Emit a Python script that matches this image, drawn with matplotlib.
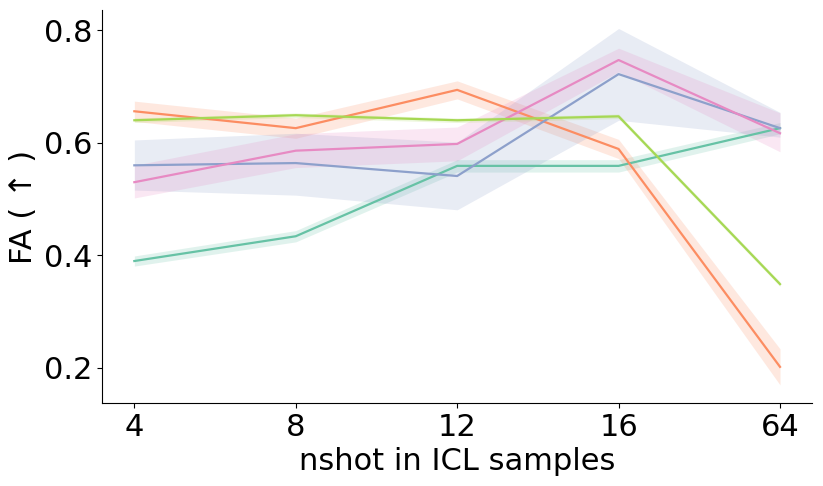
import matplotlib
matplotlib.use('Agg')
import matplotlib.pyplot as plt
import numpy as np

# x categories (equally spaced on the axis)
nshot = ['4', '8', '12', '16', '64']

# mean FA per series
green_mean = [0.390, 0.434, 0.559, 0.559, 0.626]
orange_mean = [0.656, 0.626, 0.694, 0.589, 0.202]
blue_mean = [0.560, 0.564, 0.541, 0.722, 0.626]
pink_mean = [0.530, 0.586, 0.598, 0.747, 0.617]
lime_mean = [0.640, 0.649, 0.640, 0.647, 0.349]

# band lower / upper bounds
green_lo = [0.381, 0.424, 0.548, 0.548, 0.616]
green_hi = [0.399, 0.444, 0.570, 0.570, 0.636]
orange_lo = [0.638, 0.608, 0.678, 0.572, 0.170]
orange_hi = [0.674, 0.644, 0.710, 0.606, 0.234]
blue_lo = [0.516, 0.507, 0.481, 0.640, 0.610]
blue_hi = [0.605, 0.617, 0.601, 0.803, 0.654]
pink_lo = [0.502, 0.556, 0.568, 0.726, 0.584]
pink_hi = [0.560, 0.616, 0.628, 0.768, 0.653]
lime_lo = [0.636, 0.645, 0.636, 0.643, 0.345]
lime_hi = [0.644, 0.653, 0.644, 0.651, 0.353]

colors = ['#66c2a5', '#fc8d62', '#8da0cb', '#e78ac3', '#a6d854']

series = [
    (green_mean, green_lo, green_hi),
    (orange_mean, orange_lo, orange_hi),
    (blue_mean, blue_lo, blue_hi),
    (pink_mean, pink_lo, pink_hi),
    (lime_mean, lime_lo, lime_hi),
]

fig = plt.figure(figsize=(8.23, 4.86), dpi=100)
ax = fig.add_axes([0.124, 0.171, 0.863, 0.808])

x = np.arange(len(nshot))
for (mean, lo, hi), c in zip(series, colors):
    ax.fill_between(x, lo, hi, color=c, alpha=0.2, linewidth=0)
    ax.plot(x, mean, color=c, linewidth=1.6)

ax.set_xticks(x)
ax.set_xticklabels(nshot)
ax.set_xlim(-0.2, 4.2)
ax.set_ylim(0.138, 0.8355)
ax.set_yticks([0.2, 0.4, 0.6, 0.8])
ax.tick_params(labelsize=22)
ax.set_xlabel('nshot in ICL samples', fontsize=22)
ax.set_ylabel('FA ( ↑ )', fontsize=22)
ax.spines['top'].set_visible(False)
ax.spines['right'].set_visible(False)

plt.savefig('out.png', dpi=100)
plt.close()
